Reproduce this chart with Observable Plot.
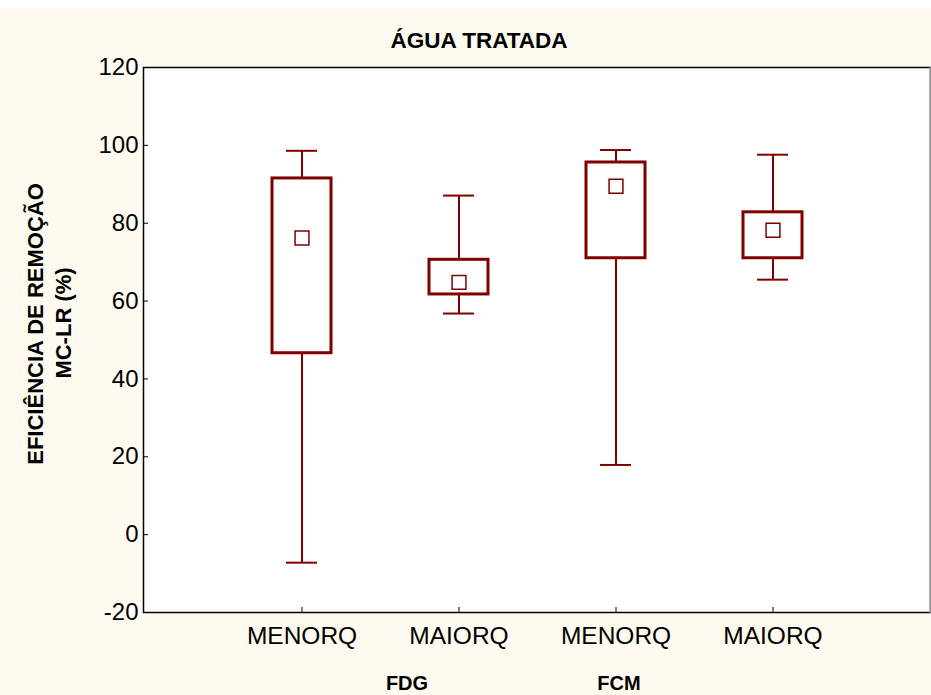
<!DOCTYPE html>
<html>
<head>
<meta charset="utf-8">
<script src="https://cdn.jsdelivr.net/npm/d3@7"></script>
<script src="https://cdn.jsdelivr.net/npm/@observablehq/plot@0.6"></script>
<style>
  html, body { margin: 0; padding: 0; background: #FFFAEF; }
  #top { height: 8px; background: #ffffff; }
  #chart { width: 931px; height: 687px; }
  svg { display: block; }
</style>
</head>
<body>
<div id="top"></div>
<div id="chart"></div>
<script>
// ---- data ----
const categories = ["FDG-MENORQ", "FDG-MAIORQ", "FCM-MENORQ", "FCM-MAIORQ"];
const tickLabels = ["MENORQ", "MAIORQ", "MENORQ", "MAIORQ"];
const whiskerLow = [-7.2, 56.8, 17.9, 65.5];
const q1 = [46.6, 61.7, 71.0, 71.0];
const means = [76.2, 64.8, 89.5, 78.2];
const q3 = [91.5, 70.6, 95.6, 82.8];
const whiskerHigh = [98.6, 87.1, 98.8, 97.6];
const yTicks = [-20, 0, 20, 40, 60, 80, 100, 120];
const groups = ["FDG", "FCM"];
const groupAnchor = ["FDG-MAIORQ", "FCM-MENORQ"];
const title = "ÁGUA TRATADA";
const yLabel1 = "EFICIÊNCIA DE REMOÇÃO";
const yLabel2 = "MC-LR (%)";

const rows = categories.map((c, i) => ({
  cat: c, lo: whiskerLow[i], q1: q1[i], mean: means[i], q3: q3[i], hi: whiskerHigh[i]
}));
const labelOf = new Map(categories.map((c, i) => [c, tickLabels[i]]));

const RED = "#800000";
const FONT = "'Liberation Sans', Arial, sans-serif";

const chart = Plot.plot({
  width: 931,
  height: 687,
  marginLeft: 143,
  marginRight: 1,
  marginTop: 59,
  marginBottom: 83,
  style: {background: "#FFFAEF", fontFamily: FONT, fontSize: "24px", color: "#000", overflow: "visible"},
  x: {type: "band", domain: categories, paddingInner: 0.625, paddingOuter: 0.8126, label: null},
  y: {domain: [-20, 120], label: null},
  marks: [
    Plot.frame({fill: "#ffffff", stroke: "#000000", strokeWidth: 1.5}),
    Plot.frame({anchor: "right", stroke: "#9a9a9a", strokeWidth: 2}),
    Plot.axisY({ticks: yTicks, tickSize: -5, tickPadding: 10, fontSize: 24, label: null, stroke: "#000", tickFormat: d => String(d)}),
    Plot.axisX({tickSize: -5, tickPadding: 19, fontSize: 24.5, label: null, tickFormat: d => labelOf.get(d), stroke: "#000"}),
    // whiskers
    Plot.ruleX(rows, {x: "cat", y1: "lo", y2: "q1", stroke: RED, strokeWidth: 2}),
    Plot.ruleX(rows, {x: "cat", y1: "q3", y2: "hi", stroke: RED, strokeWidth: 2}),
    Plot.tickY(rows, {x: "cat", y: "lo", stroke: RED, strokeWidth: 2, insetLeft: 14, insetRight: 14}),
    Plot.tickY(rows, {x: "cat", y: "hi", stroke: RED, strokeWidth: 2, insetLeft: 14, insetRight: 14}),
    // boxes
    Plot.barY(rows, {x: "cat", y1: "q1", y2: "q3", fill: "#ffffff", stroke: RED, strokeWidth: 3}),
    // means
    Plot.dot(rows, {x: "cat", y: "mean", symbol: "square", r: 7.8, fill: "#ffffff", stroke: RED, strokeWidth: 1.5}),
    // title
    Plot.text([title], {frameAnchor: "top", text: d => d, dx: -58, dy: -27, fontWeight: "bold", fontSize: 22.5, lineAnchor: "middle", fill: "#000"}),
    // y label
    Plot.text([yLabel1], {frameAnchor: "left", text: d => d, rotate: -90, dx: -108, dy: -16, fontWeight: "bold", fontSize: 22, lineAnchor: "middle", textAnchor: "middle", fill: "#000"}),
    Plot.text([yLabel2], {frameAnchor: "left", text: d => d, rotate: -90, dx: -80, dy: -17, fontWeight: "bold", fontSize: 22, lineAnchor: "middle", textAnchor: "middle", fill: "#000"}),
    // group labels
    Plot.text([groups[0]], {x: () => groupAnchor[0], text: d => d, frameAnchor: "bottom", dy: 71, dx: -52, fontWeight: "bold", fontSize: 20, lineAnchor: "middle", fill: "#000"}),
    Plot.text([groups[1]], {x: () => groupAnchor[1], text: d => d, frameAnchor: "bottom", dy: 71, dx: 3, fontWeight: "bold", fontSize: 20, lineAnchor: "middle", fill: "#000"})
  ]
});
document.getElementById("chart").appendChild(chart);
</script>
</body>
</html>
